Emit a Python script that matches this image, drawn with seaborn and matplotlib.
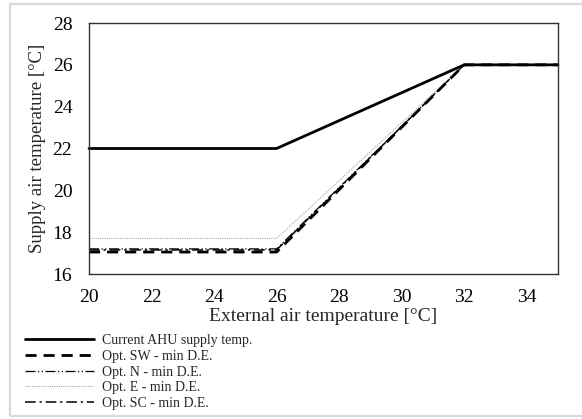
import matplotlib
matplotlib.use("Agg")
import matplotlib.pyplot as plt
import matplotlib.patches as mpatches
from matplotlib.lines import Line2D
import seaborn as sns
import pandas as pd

# Data
ext_temp = [20, 26, 32, 35]
current_ahu = [22, 22, 26, 26]
opt_sw = [17.05, 17.05, 26, 26]
opt_n = [17.2, 17.2, 26, 26]
opt_e = [17.7, 17.7, 26, 26]
opt_sc = [17.15, 17.15, 26, 26]
labels = ["Current AHU supply temp.", "Opt. SW - min D.E.", "Opt. N - min D.E.",
          "Opt. E - min D.E.", "Opt. SC - min D.E."]
xticks = [20, 22, 24, 26, 28, 30, 32, 34]
yticks = [16, 18, 20, 22, 24, 26, 28]

sns.set_theme(style="white")
plt.rcParams['font.family'] = ['Liberation Serif', 'DejaVu Serif']

W, H = 582, 419
fig = plt.figure(figsize=(W / 100, H / 100), dpi=100)
ax = fig.add_axes([89 / W, 1 - 274 / H, (558 - 89) / W, (274 - 23) / H])

styles = {
    labels[0]: dict(color="black", lw=2.0, ls="-"),
    labels[1]: dict(color="black", lw=2.0, ls=(0, (4, 2.5))),
    labels[2]: dict(color="black", lw=0.9, ls=(0, (8, 2, 1, 2, 1, 2))),
    labels[3]: dict(color="#a8a8a8", lw=0.8, ls=(0, (1, 1))),
    labels[4]: dict(color="black", lw=1.1, ls=(0, (7, 2.5, 1.5, 2.5))),
}
series = [current_ahu, opt_sw, opt_n, opt_e, opt_sc]
draw_order = [3, 2, 4, 1, 0]
for i in draw_order:
    df = pd.DataFrame({"x": ext_temp, "y": series[i]})
    st = styles[labels[i]]
    sns.lineplot(data=df, x="x", y="y", ax=ax, color=st["color"], linewidth=st["lw"],
                 linestyle=st["ls"], clip_on=False if i == 0 else True)

ax.set_xlim(20, 35)
ax.set_ylim(16, 28)
ax.set_xticks(xticks)
ax.set_yticks(yticks)
ax.tick_params(axis="both", length=0, labelsize=14, colors="black")
ax.tick_params(axis="x", pad=11)
ax.tick_params(axis="y", pad=12)
ax.set_xlabel("External air temperature [°C]", fontsize=14, labelpad=1)
ax.set_ylabel("Supply air temperature [°C]", fontsize=13.5, labelpad=5)
for s in ax.spines.values():
    s.set_color("#333333")
    s.set_linewidth(1.0)

handles = [Line2D([0], [0], color=styles[l]["color"], lw=styles[l]["lw"], ls=styles[l]["ls"])
           for l in labels]
leg = fig.legend(handles, labels, loc="upper left", bbox_to_anchor=(25 / W, 1 - 334 / H),
                 frameon=False, fontsize=10, handlelength=5.0, handletextpad=0.55,
                 labelspacing=0.2, borderpad=0, borderaxespad=0)

rect = mpatches.Rectangle((9.5 / W, 1 - 416 / H), 1.0, (416 - 4.5) / H,
                          transform=fig.transFigure, fill=False, edgecolor="#d9d9d9",
                          linewidth=1.6, clip_on=False)
fig.patches.append(rect)

fig.savefig("out.png", dpi=100)
